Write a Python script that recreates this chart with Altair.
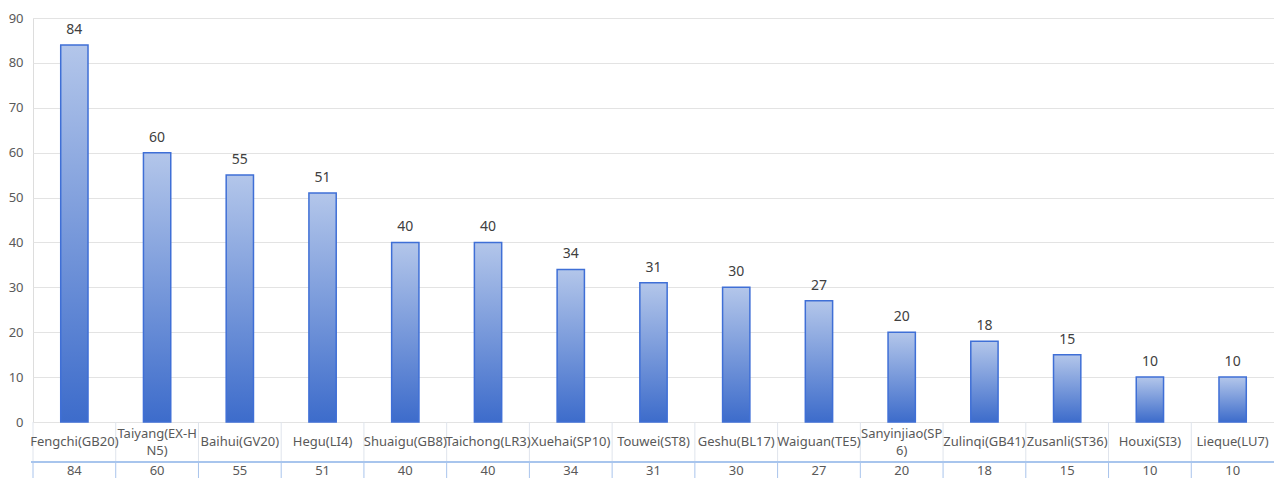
import altair as alt
import pandas as pd

names = ["Fengchi(GB20)", "Taiyang(EX-HN5)", "Baihui(GV20)", "Hegu(LI4)", "Shuaigu(GB8)",
         "Taichong(LR3)", "Xuehai(SP10)", "Touwei(ST8)", "Geshu(BL17)", "Waiguan(TE5)",
         "Sanyinjiao(SP6)", "Zulinqi(GB41)", "Zusanli(ST36)", "Houxi(SI3)", "Lieque(LU7)"]
table_labels = ["Fengchi(GB20)", "Taiyang(EX-H\nN5)", "Baihui(GV20)", "Hegu(LI4)", "Shuaigu(GB8)",
                "Taichong(LR3)", "Xuehai(SP10)", "Touwei(ST8)", "Geshu(BL17)", "Waiguan(TE5)",
                "Sanyinjiao(SP\n6)", "Zulinqi(GB41)", "Zusanli(ST36)", "Houxi(SI3)", "Lieque(LU7)"]
values = [84, 60, 55, 51, 40, 40, 34, 31, 30, 27, 20, 18, 15, 10, 10]
y_ticks = [0, 10, 20, 30, 40, 50, 60, 70, 80, 90]

df = pd.DataFrame({"name": names, "label": table_labels, "value": values})

FONT = "Noto Sans"
GRAY = "#595959"
W, H = 1241, 404

xs = alt.Scale(domain=names, paddingInner=0, paddingOuter=0)
x_enc = alt.X("name:N", sort=names, scale=xs, axis=None)

base = alt.Chart(df)

bars = base.mark_bar(
    width=alt.RelativeBandSize(0.33),
    fill=alt.Gradient(
        gradient="linear", x1=0, x2=0, y1=0, y2=1,
        stops=[alt.GradientStop(offset=0, color="#b3c6ea"),
               alt.GradientStop(offset=1, color="#3d6ccb")],
    ),
    stroke="#3f6fd6", strokeWidth=1.5,
).encode(
    x=x_enc,
    y=alt.Y("value:Q", scale=alt.Scale(domain=[0, 90], nice=False),
            axis=alt.Axis(values=y_ticks, title=None, domain=False, ticks=False,
                          gridColor="#e3e3e3", gridWidth=1,
                          labelColor=GRAY, labelFont=FONT, labelFontSize=13,
                          labelPadding=10)),
)

bar_labels = base.mark_text(baseline="bottom", dy=-8, font=FONT, fontSize=14, color="#404040").encode(
    x=x_enc, y="value:Q", text="value:Q"
)

name_single = base.transform_filter("indexof(datum.label, '\\n') < 0").mark_text(
    baseline="middle", font=FONT, fontSize=13, color=GRAY).encode(
    x=x_enc, y=alt.value(424), text="label:N"
)
name_double = base.transform_filter("indexof(datum.label, '\\n') >= 0").mark_text(
    baseline="middle", lineBreak="\n", lineHeight=17,
    font=FONT, fontSize=13, color=GRAY).encode(
    x=x_enc, y=alt.value(415.5), text="label:N"
)
value_text = base.mark_text(baseline="middle", font=FONT, fontSize=13, color=GRAY).encode(
    x=x_enc, y=alt.value(453), text="value:Q"
)

vlines_top = base.mark_rule(color="#dfe4ec", strokeWidth=1).encode(
    x=alt.X("name:N", sort=names, scale=xs, axis=None, bandPosition=0),
    y=alt.value(404), y2=alt.value(444),
)
vlines_bot = base.mark_rule(color="#a9c4ec", strokeWidth=1).encode(
    x=alt.X("name:N", sort=names, scale=xs, axis=None, bandPosition=0),
    y=alt.value(444), y2=alt.value(462),
)
hline = base.mark_rule(color="#a9c4ec", strokeWidth=1.5).encode(
    x=alt.value(-2), x2=alt.value(W), y=alt.value(444),
)

chart = alt.layer(vlines_top, vlines_bot, hline, bars, bar_labels,
                  name_single, name_double, value_text).properties(
    width=W, height=H,
    autosize=alt.AutoSizeParams(type="none"),
    padding={"left": 33, "top": 18, "right": 0, "bottom": 56},
).configure_view(stroke=None).configure(background="white")

chart.save("out.html", embed_options={"renderer": "svg", "actions": False})
